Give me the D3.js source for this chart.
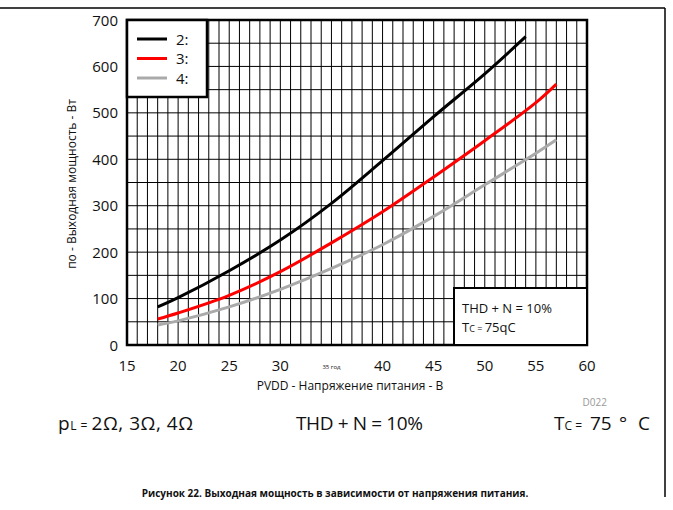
<!DOCTYPE html>
<html><head><meta charset="utf-8">
<script src="https://cdn.jsdelivr.net/npm/d3@7"></script>
<style>
html,body{margin:0;padding:0;background:#fff;}
svg{display:block;font-family:"Open Sans","Noto Sans",sans-serif;}
</style></head>
<body>
<svg id="c" width="673" height="510"></svg>
<script>
// ---- data ----
const voltage2 = [18, 20, 25, 30, 35, 40, 45, 50, 54];
const power2   = [82, 102, 160, 226, 305, 397, 492, 584, 664];
const voltage3 = [18, 20, 25, 30, 35, 40, 45, 50, 55, 57];
const power3   = [56, 69, 107, 158, 220, 287, 362, 440, 522, 562];
const voltage4 = [18, 20, 25, 30, 35, 40, 45, 50, 55, 57];
const power4   = [43, 52, 82, 120, 165, 216, 277, 345, 413, 442];
const seriesNames = ["2:", "3:", "4:"];
const seriesColors = ["#000000", "#ff0000", "#aaaaaa"];
const xTickValues = [15, 20, 25, 30, 35, 40, 45, 50, 55, 60];
const xTickLabels = ["15", "20", "25", "30", "35 год", "40", "45", "50", "55", "60"];
const yTickValues = [0, 100, 200, 300, 400, 500, 600, 700];

const svg = d3.select("#c");
const L = 127, R = 587, T = 20, B = 345;
const x = d3.scaleLinear().domain([15, 60]).range([L, R]);
const y = d3.scaleLinear().domain([0, 700]).range([B, T]);

// frame lines
svg.append("line").attr("x1", 0).attr("x2", 665).attr("y1", 8).attr("y2", 8)
  .attr("stroke", "#000").attr("stroke-width", 1.5);
svg.append("line").attr("x1", 665).attr("x2", 665).attr("y1", 8).attr("y2", 497)
  .attr("stroke", "#000").attr("stroke-width", 1.5);

// grid
const g = svg.append("g");
g.selectAll(".vg").data(d3.range(16, 60)).join("line")
  .attr("x1", d => x(d)).attr("x2", d => x(d)).attr("y1", T).attr("y2", B)
  .attr("stroke", "#000").attr("stroke-width", 1);
g.selectAll(".hg").data(d3.range(50, 700, 50)).join("line")
  .attr("x1", L).attr("x2", R).attr("y1", d => y(d)).attr("y2", d => y(d))
  .attr("stroke", "#000").attr("stroke-width", 1);

// curves
const line = d3.line().x(d => x(d[0])).y(d => y(d[1])).curve(d3.curveCatmullRom.alpha(0.5));
const series = [
  d3.zip(voltage2, power2),
  d3.zip(voltage3, power3),
  d3.zip(voltage4, power4)
];
series.forEach((s, i) => {
  svg.append("path").attr("d", line(s)).attr("fill", "none")
    .attr("stroke", seriesColors[i]).attr("stroke-width", 3);
});

// plot border
svg.append("rect").attr("x", L).attr("y", T).attr("width", R - L).attr("height", B - T)
  .attr("fill", "none").attr("stroke", "#000").attr("stroke-width", 2.5);

// legend box
svg.append("rect").attr("x", 127).attr("y", 20).attr("width", 80).attr("height", 77)
  .attr("fill", "#fff").attr("stroke", "#000").attr("stroke-width", 2.5);
seriesNames.forEach((n, i) => {
  const yy = 39 + i * 19.5;
  svg.append("line").attr("x1", 137).attr("x2", 167).attr("y1", yy).attr("y2", yy)
    .attr("stroke", seriesColors[i]).attr("stroke-width", 3);
  svg.append("text").attr("x", 176).attr("y", yy + 5.5).attr("font-size", 15)
    .attr("fill", "#111").text(n);
});

// THD box
svg.append("rect").attr("x", 454).attr("y", 288).attr("width", 133).attr("height", 57)
  .attr("fill", "#fff").attr("stroke", "#000").attr("stroke-width", 2);
svg.append("text").attr("x", 462).attr("y", 313).attr("font-size", 13).attr("fill", "#111")
  .text("THD + N = 10%");
const tc = svg.append("text").attr("x", 462).attr("y", 332).attr("font-size", 13).attr("fill", "#111");
tc.append("tspan").text("T");
tc.append("tspan").attr("font-size", 9).text("C = ");
tc.append("tspan").text("75qC");

// y axis labels
svg.selectAll(".yl").data(yTickValues).join("text")
  .attr("x", 118).attr("y", d => y(d) + 5.5).attr("text-anchor", "end")
  .attr("font-size", 15).attr("fill", "#111").text(d => d);

// x axis labels
svg.selectAll(".xl").data(xTickValues).join("text")
  .attr("x", d => x(d)).attr("y", 371).attr("text-anchor", "middle")
  .attr("font-size", (d, i) => xTickLabels[i].length > 3 ? 6 : 15)
  .attr("dy", (d, i) => xTickLabels[i].length > 3 ? -2 : 0)
  .attr("fill", "#111").text((d, i) => xTickLabels[i]);

// axis titles
svg.append("text").attr("x", 350).attr("y", 390).attr("text-anchor", "middle")
  .attr("font-size", 12).attr("fill", "#111").text("PVDD - Напряжение питания - В");
svg.append("text").attr("transform", "translate(76,184) rotate(-90)")
  .attr("text-anchor", "middle").attr("font-size", 12).attr("fill", "#111")
  .text("по - Выходная мощность - Вт");
svg.append("text").attr("x", 607).attr("y", 406).attr("text-anchor", "end")
  .attr("font-size", 10).attr("fill", "#999").text("D022");

// condition line
const c1 = svg.append("text").attr("x", 58).attr("y", 430).attr("font-size", 19)
  .attr("textLength", 135).attr("lengthAdjust", "spacing").attr("fill", "#111");
c1.append("tspan").text("p");
c1.append("tspan").attr("font-size", 12).text("L = ");
c1.append("tspan").text("2Ω, 3Ω, 4Ω");
svg.append("text").attr("x", 296).attr("y", 430).attr("font-size", 19)
  .attr("textLength", 127).attr("lengthAdjust", "spacing").attr("fill", "#111")
  .text("THD + N = 10%");
const c3 = svg.append("text").attr("y", 430).attr("font-size", 19).attr("fill", "#111");
c3.append("tspan").attr("x", 554).text("T");
c3.append("tspan").attr("font-size", 12).text("C = ");
c3.append("tspan").attr("x", 590).text("75");
c3.append("tspan").attr("x", 619).text("°");
c3.append("tspan").attr("x", 638).text("C");

// caption
svg.append("text").attr("x", 335).attr("y", 497).attr("text-anchor", "middle")
  .attr("font-size", 10).attr("font-weight", "bold").attr("fill", "#111")
  .text("Рисунок 22. Выходная мощность в зависимости от напряжения питания.");
</script>
</body></html>
